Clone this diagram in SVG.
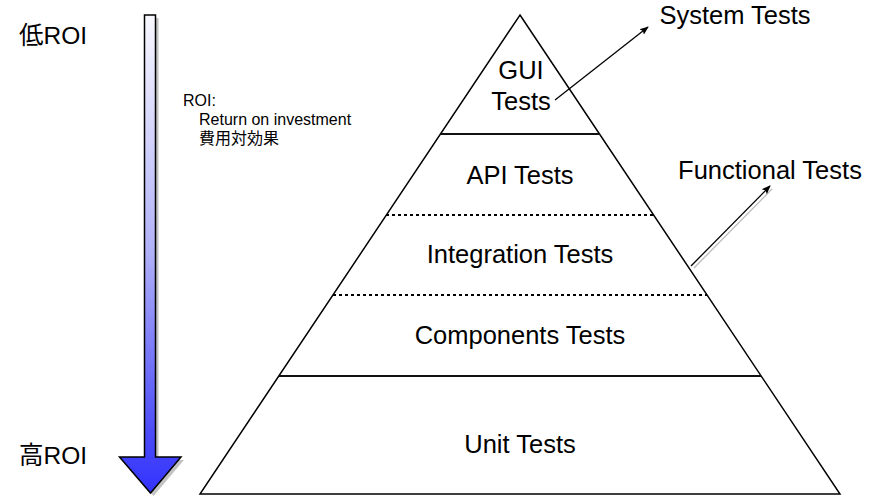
<svg xmlns="http://www.w3.org/2000/svg" width="881" height="499" viewBox="0 0 881 499">
  <defs>
    <linearGradient id="roiGrad" x1="0" y1="0" x2="0" y2="1">
      <stop offset="0" stop-color="#f8f8ff"/>
      <stop offset="0.5" stop-color="#b0b0f8"/>
      <stop offset="0.88" stop-color="#4a4af8"/>
      <stop offset="1" stop-color="#3333ff"/>
    </linearGradient>
    <marker id="arr" viewBox="0 0 10 10" refX="9" refY="5" markerWidth="9" markerHeight="9" orient="auto" markerUnits="userSpaceOnUse">
      <path d="M0,1 L10,5 L0,9 L2,5 Z" fill="#000"/>
    </marker>
  </defs>
  <style>
    .lbl { font-family: "Liberation Sans", Arial, "Noto Sans CJK JP", sans-serif; font-size: 25.5px; fill: #000; }
    .side { font-family: "Liberation Sans", Arial, "Noto Sans CJK JP", sans-serif; font-size: 24.5px; fill: #000; }
    .note { font-family: "Liberation Sans", Arial, "Noto Sans CJK JP", sans-serif; font-size: 16px; fill: #000; }
    .edge { stroke: #000; stroke-width: 1.3; fill: none; }
    .dot { stroke: #000; stroke-width: 2.2; stroke-dasharray: 3 3; fill: none; }
    .solid { stroke: #111; stroke-width: 2; fill: none; }
  </style>
  <rect width="881" height="499" fill="#ffffff"/>

  <g id="roi-arrow">
    <path d="M147.5,18 H158.5 V460 H184 L153.5,496 L122.5,460 H147.5 Z" fill="#999" opacity="0.6"/>
    <path d="M144.5,15 H155.5 V457 H181 L150.5,493 L119.5,457 H144.5 Z" fill="url(#roiGrad)" stroke="#000" stroke-width="1.5" stroke-linejoin="miter"/>
  </g>

  <g id="label-low-roi"><text class="side" x="19" y="44">低ROI</text></g>
  <g id="label-high-roi"><text class="side" x="19" y="464">高ROI</text></g>

  <g id="roi-note">
    <text class="note" x="183" y="106">ROI:</text>
    <text class="note" x="199" y="125">Return on investment</text>
    <text class="note" x="199" y="144">費用対効果</text>
  </g>

  <g id="pyramid">
    <polygon points="520,15 840,494 200,494" fill="#fff" stroke="#000" stroke-width="1.5" stroke-linejoin="miter"/>
    <line class="solid" x1="441" y1="134" x2="600" y2="134"/>
    <line class="dot" x1="386" y1="215" x2="654" y2="215"/>
    <line class="dot" x1="333" y1="295" x2="707" y2="295"/>
    <line class="solid" x1="279" y1="376" x2="761" y2="376"/>
  </g>

  <g id="gui-tests"><text class="lbl" x="521" y="79" text-anchor="middle">GUI</text><text class="lbl" x="521" y="110" text-anchor="middle">Tests</text></g>
  <g id="api-tests"><text class="lbl" x="520" y="184" text-anchor="middle">API Tests</text></g>
  <g id="integration-tests"><text class="lbl" x="520" y="263" text-anchor="middle">Integration Tests</text></g>
  <g id="components-tests"><text class="lbl" x="520" y="344" text-anchor="middle">Components Tests</text></g>
  <g id="unit-tests"><text class="lbl" x="520" y="453" text-anchor="middle">Unit Tests</text></g>
  <g id="system-tests"><text class="lbl" x="735" y="24" text-anchor="middle">System Tests</text></g>
  <g id="functional-tests"><text class="lbl" x="770" y="179" text-anchor="middle">Functional Tests</text></g>

  <g id="connectors">
    <line x1="694" y1="268" x2="772" y2="189" stroke="#bbb" stroke-width="1.3"/>
    <line class="edge" x1="691" y1="266" x2="770" y2="186" marker-end="url(#arr)"/>
    <line class="edge" x1="555" y1="100" x2="648" y2="27" marker-end="url(#arr)"/>
  </g>
</svg>
